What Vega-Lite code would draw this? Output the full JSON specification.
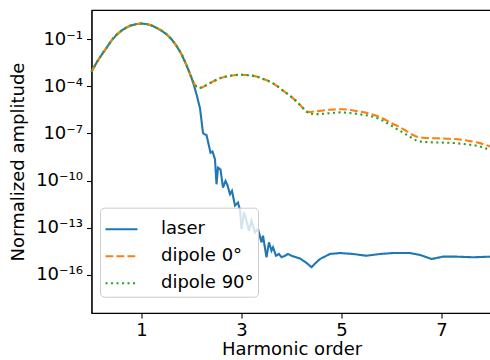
{
  "$schema": "https://vega.github.io/schema/vega-lite/v6.json",
  "width": 400,
  "height": 303,
  "autosize": {"type": "none"},
  "padding": {"left": 91.5, "top": 10, "right": 0, "bottom": 47},
  "background": "white",
  "config": {
    "font": "DejaVu Sans",
    "view": {"stroke": "#000000", "strokeWidth": 1.1},
    "axis": {
      "grid": false,
      "domainColor": "#000000",
      "domainWidth": 1.1,
      "tickColor": "#000000",
      "tickWidth": 1.1,
      "tickSize": 5,
      "labelColor": "#000000",
      "labelFontSize": 18,
      "labelPadding": 4,
      "titleColor": "#000000",
      "titleFontSize": 18,
      "titleFontWeight": "normal"
    },
    "legend": {
      "orient": "none",
      "legendX": 8.5,
      "legendY": 197.7,
      "fillColor": "rgba(255,255,255,0.8)",
      "strokeColor": "#cccccc",
      "cornerRadius": 4,
      "padding": 4,
      "labelFontSize": 18,
      "labelColor": "#000000",
      "labelOffset": 22,
      "rowPadding": 0,
      "symbolType": "stroke",
      "symbolSize": 1024,
      "symbolStrokeWidth": 2.1
    }
  },
  "data": {
    "values": [
      {"harmonic": 0.0, "amplitude": 8.5e-4, "series": "laser"},
      {"harmonic": 0.1, "amplitude": 3.16e-3, "series": "laser"},
      {"harmonic": 0.2, "amplitude": 1.0e-2, "series": "laser"},
      {"harmonic": 0.3, "amplitude": 2.82e-2, "series": "laser"},
      {"harmonic": 0.4, "amplitude": 8.32e-2, "series": "laser"},
      {"harmonic": 0.5, "amplitude": 1.91e-1, "series": "laser"},
      {"harmonic": 0.6, "amplitude": 3.55e-1, "series": "laser"},
      {"harmonic": 0.7, "amplitude": 5.62e-1, "series": "laser"},
      {"harmonic": 0.8, "amplitude": 7.76e-1, "series": "laser"},
      {"harmonic": 0.9, "amplitude": 9.33e-1, "series": "laser"},
      {"harmonic": 1.0, "amplitude": 1.0, "series": "laser"},
      {"harmonic": 1.1, "amplitude": 9.33e-1, "series": "laser"},
      {"harmonic": 1.2, "amplitude": 7.59e-1, "series": "laser"},
      {"harmonic": 1.3, "amplitude": 5.37e-1, "series": "laser"},
      {"harmonic": 1.4, "amplitude": 3.55e-1, "series": "laser"},
      {"harmonic": 1.5, "amplitude": 2.09e-1, "series": "laser"},
      {"harmonic": 1.6, "amplitude": 1.0e-1, "series": "laser"},
      {"harmonic": 1.7, "amplitude": 3.8e-2, "series": "laser"},
      {"harmonic": 1.8, "amplitude": 1.12e-2, "series": "laser"},
      {"harmonic": 1.9, "amplitude": 2.24e-3, "series": "laser"},
      {"harmonic": 2.0, "amplitude": 3.55e-4, "series": "laser"},
      {"harmonic": 2.05, "amplitude": 1.12e-4, "series": "laser"},
      {"harmonic": 2.1, "amplitude": 3.16e-5, "series": "laser"},
      {"harmonic": 2.17, "amplitude": 3.98e-6, "series": "laser"},
      {"harmonic": 2.23, "amplitude": 1.07e-7, "series": "laser"},
      {"harmonic": 2.26, "amplitude": 8.91e-8, "series": "laser"},
      {"harmonic": 2.3, "amplitude": 7.94e-8, "series": "laser"},
      {"harmonic": 2.35, "amplitude": 1.58e-8, "series": "laser"},
      {"harmonic": 2.38, "amplitude": 5.89e-9, "series": "laser"},
      {"harmonic": 2.42, "amplitude": 7.08e-9, "series": "laser"},
      {"harmonic": 2.47, "amplitude": 2.24e-9, "series": "laser"},
      {"harmonic": 2.5, "amplitude": 5.75e-11, "series": "laser"},
      {"harmonic": 2.53, "amplitude": 6.61e-10, "series": "laser"},
      {"harmonic": 2.58, "amplitude": 5.01e-10, "series": "laser"},
      {"harmonic": 2.63, "amplitude": 3.55e-11, "series": "laser"},
      {"harmonic": 2.68, "amplitude": 9.33e-11, "series": "laser"},
      {"harmonic": 2.72, "amplitude": 5.01e-11, "series": "laser"},
      {"harmonic": 2.77, "amplitude": 1.35e-11, "series": "laser"},
      {"harmonic": 2.81, "amplitude": 2.19e-11, "series": "laser"},
      {"harmonic": 2.87, "amplitude": 2.51e-12, "series": "laser"},
      {"harmonic": 2.93, "amplitude": 3.98e-12, "series": "laser"},
      {"harmonic": 2.97, "amplitude": 1.26e-12, "series": "laser"},
      {"harmonic": 3.0, "amplitude": 8.13e-14, "series": "laser"},
      {"harmonic": 3.05, "amplitude": 9.33e-13, "series": "laser"},
      {"harmonic": 3.1, "amplitude": 2.69e-13, "series": "laser"},
      {"harmonic": 3.15, "amplitude": 6.31e-14, "series": "laser"},
      {"harmonic": 3.2, "amplitude": 2.69e-13, "series": "laser"},
      {"harmonic": 3.27, "amplitude": 5.01e-14, "series": "laser"},
      {"harmonic": 3.33, "amplitude": 8.13e-14, "series": "laser"},
      {"harmonic": 3.4, "amplitude": 1.15e-14, "series": "laser"},
      {"harmonic": 3.43, "amplitude": 3.02e-14, "series": "laser"},
      {"harmonic": 3.5, "amplitude": 1.29e-15, "series": "laser"},
      {"harmonic": 3.55, "amplitude": 1.15e-14, "series": "laser"},
      {"harmonic": 3.6, "amplitude": 3.39e-15, "series": "laser"},
      {"harmonic": 3.63, "amplitude": 5.62e-15, "series": "laser"},
      {"harmonic": 3.69, "amplitude": 1.62e-15, "series": "laser"},
      {"harmonic": 3.75, "amplitude": 2.09e-15, "series": "laser"},
      {"harmonic": 3.8, "amplitude": 1.29e-15, "series": "laser"},
      {"harmonic": 3.87, "amplitude": 1.62e-15, "series": "laser"},
      {"harmonic": 3.93, "amplitude": 2.09e-15, "series": "laser"},
      {"harmonic": 4.0, "amplitude": 1.62e-15, "series": "laser"},
      {"harmonic": 4.17, "amplitude": 1.07e-15, "series": "laser"},
      {"harmonic": 4.3, "amplitude": 5.62e-16, "series": "laser"},
      {"harmonic": 4.4, "amplitude": 3.02e-16, "series": "laser"},
      {"harmonic": 4.5, "amplitude": 6.31e-16, "series": "laser"},
      {"harmonic": 4.57, "amplitude": 1.0e-15, "series": "laser"},
      {"harmonic": 4.77, "amplitude": 2.09e-15, "series": "laser"},
      {"harmonic": 4.97, "amplitude": 2.4e-15, "series": "laser"},
      {"harmonic": 5.23, "amplitude": 2.09e-15, "series": "laser"},
      {"harmonic": 5.5, "amplitude": 1.62e-15, "series": "laser"},
      {"harmonic": 5.77, "amplitude": 2.09e-15, "series": "laser"},
      {"harmonic": 6.03, "amplitude": 2.4e-15, "series": "laser"},
      {"harmonic": 6.37, "amplitude": 2.4e-15, "series": "laser"},
      {"harmonic": 6.57, "amplitude": 1.82e-15, "series": "laser"},
      {"harmonic": 6.8, "amplitude": 1.0e-15, "series": "laser"},
      {"harmonic": 7.03, "amplitude": 1.41e-15, "series": "laser"},
      {"harmonic": 7.3, "amplitude": 1.41e-15, "series": "laser"},
      {"harmonic": 7.63, "amplitude": 1.29e-15, "series": "laser"},
      {"harmonic": 7.97, "amplitude": 1.41e-15, "series": "laser"},
      {"harmonic": 8.0, "amplitude": 1.41e-15, "series": "laser"},

      {"harmonic": 0.0, "amplitude": 8.5e-4, "series": "dipole 0°"},
      {"harmonic": 0.1, "amplitude": 3.16e-3, "series": "dipole 0°"},
      {"harmonic": 0.2, "amplitude": 1.0e-2, "series": "dipole 0°"},
      {"harmonic": 0.3, "amplitude": 2.82e-2, "series": "dipole 0°"},
      {"harmonic": 0.4, "amplitude": 8.32e-2, "series": "dipole 0°"},
      {"harmonic": 0.5, "amplitude": 1.91e-1, "series": "dipole 0°"},
      {"harmonic": 0.6, "amplitude": 3.55e-1, "series": "dipole 0°"},
      {"harmonic": 0.7, "amplitude": 5.62e-1, "series": "dipole 0°"},
      {"harmonic": 0.8, "amplitude": 7.76e-1, "series": "dipole 0°"},
      {"harmonic": 0.9, "amplitude": 9.33e-1, "series": "dipole 0°"},
      {"harmonic": 1.0, "amplitude": 1.0, "series": "dipole 0°"},
      {"harmonic": 1.1, "amplitude": 9.33e-1, "series": "dipole 0°"},
      {"harmonic": 1.2, "amplitude": 7.59e-1, "series": "dipole 0°"},
      {"harmonic": 1.3, "amplitude": 5.37e-1, "series": "dipole 0°"},
      {"harmonic": 1.4, "amplitude": 3.55e-1, "series": "dipole 0°"},
      {"harmonic": 1.5, "amplitude": 2.09e-1, "series": "dipole 0°"},
      {"harmonic": 1.6, "amplitude": 1.0e-1, "series": "dipole 0°"},
      {"harmonic": 1.7, "amplitude": 3.8e-2, "series": "dipole 0°"},
      {"harmonic": 1.8, "amplitude": 1.12e-2, "series": "dipole 0°"},
      {"harmonic": 1.9, "amplitude": 2.24e-3, "series": "dipole 0°"},
      {"harmonic": 2.0, "amplitude": 3.55e-4, "series": "dipole 0°"},
      {"harmonic": 2.05, "amplitude": 1.58e-4, "series": "dipole 0°"},
      {"harmonic": 2.1, "amplitude": 9.55e-5, "series": "dipole 0°"},
      {"harmonic": 2.15, "amplitude": 7.76e-5, "series": "dipole 0°"},
      {"harmonic": 2.2, "amplitude": 8.32e-5, "series": "dipole 0°"},
      {"harmonic": 2.3, "amplitude": 1.2e-4, "series": "dipole 0°"},
      {"harmonic": 2.43, "amplitude": 2.04e-4, "series": "dipole 0°"},
      {"harmonic": 2.6, "amplitude": 3.55e-4, "series": "dipole 0°"},
      {"harmonic": 2.7, "amplitude": 4.27e-4, "series": "dipole 0°"},
      {"harmonic": 2.85, "amplitude": 5.13e-4, "series": "dipole 0°"},
      {"harmonic": 3.0, "amplitude": 5.5e-4, "series": "dipole 0°"},
      {"harmonic": 3.15, "amplitude": 5.13e-4, "series": "dipole 0°"},
      {"harmonic": 3.3, "amplitude": 4.27e-4, "series": "dipole 0°"},
      {"harmonic": 3.45, "amplitude": 2.82e-4, "series": "dipole 0°"},
      {"harmonic": 3.6, "amplitude": 1.78e-4, "series": "dipole 0°"},
      {"harmonic": 3.7, "amplitude": 1.12e-4, "series": "dipole 0°"},
      {"harmonic": 3.8, "amplitude": 6.31e-5, "series": "dipole 0°"},
      {"harmonic": 3.97, "amplitude": 2.51e-5, "series": "dipole 0°"},
      {"harmonic": 4.1, "amplitude": 1.1e-5, "series": "dipole 0°"},
      {"harmonic": 4.2, "amplitude": 5.25e-6, "series": "dipole 0°"},
      {"harmonic": 4.3, "amplitude": 2.63e-6, "series": "dipole 0°"},
      {"harmonic": 4.35, "amplitude": 2.29e-6, "series": "dipole 0°"},
      {"harmonic": 4.45, "amplitude": 2.51e-6, "series": "dipole 0°"},
      {"harmonic": 4.57, "amplitude": 2.75e-6, "series": "dipole 0°"},
      {"harmonic": 4.7, "amplitude": 3.16e-6, "series": "dipole 0°"},
      {"harmonic": 4.85, "amplitude": 3.39e-6, "series": "dipole 0°"},
      {"harmonic": 5.0, "amplitude": 3.47e-6, "series": "dipole 0°"},
      {"harmonic": 5.17, "amplitude": 3.16e-6, "series": "dipole 0°"},
      {"harmonic": 5.3, "amplitude": 2.69e-6, "series": "dipole 0°"},
      {"harmonic": 5.5, "amplitude": 2.04e-6, "series": "dipole 0°"},
      {"harmonic": 5.7, "amplitude": 1.32e-6, "series": "dipole 0°"},
      {"harmonic": 5.83, "amplitude": 8.91e-7, "series": "dipole 0°"},
      {"harmonic": 6.0, "amplitude": 4.47e-7, "series": "dipole 0°"},
      {"harmonic": 6.17, "amplitude": 2.51e-7, "series": "dipole 0°"},
      {"harmonic": 6.3, "amplitude": 1.41e-7, "series": "dipole 0°"},
      {"harmonic": 6.43, "amplitude": 7.94e-8, "series": "dipole 0°"},
      {"harmonic": 6.55, "amplitude": 5.75e-8, "series": "dipole 0°"},
      {"harmonic": 6.7, "amplitude": 5.13e-8, "series": "dipole 0°"},
      {"harmonic": 6.9, "amplitude": 4.9e-8, "series": "dipole 0°"},
      {"harmonic": 7.17, "amplitude": 4.57e-8, "series": "dipole 0°"},
      {"harmonic": 7.4, "amplitude": 3.98e-8, "series": "dipole 0°"},
      {"harmonic": 7.57, "amplitude": 3.24e-8, "series": "dipole 0°"},
      {"harmonic": 7.75, "amplitude": 2.51e-8, "series": "dipole 0°"},
      {"harmonic": 7.9, "amplitude": 1.78e-8, "series": "dipole 0°"},
      {"harmonic": 8.0, "amplitude": 1.41e-8, "series": "dipole 0°"},

      {"harmonic": 0.0, "amplitude": 8.5e-4, "series": "dipole 90°"},
      {"harmonic": 0.1, "amplitude": 3.16e-3, "series": "dipole 90°"},
      {"harmonic": 0.2, "amplitude": 1.0e-2, "series": "dipole 90°"},
      {"harmonic": 0.3, "amplitude": 2.82e-2, "series": "dipole 90°"},
      {"harmonic": 0.4, "amplitude": 8.32e-2, "series": "dipole 90°"},
      {"harmonic": 0.5, "amplitude": 1.91e-1, "series": "dipole 90°"},
      {"harmonic": 0.6, "amplitude": 3.55e-1, "series": "dipole 90°"},
      {"harmonic": 0.7, "amplitude": 5.62e-1, "series": "dipole 90°"},
      {"harmonic": 0.8, "amplitude": 7.76e-1, "series": "dipole 90°"},
      {"harmonic": 0.9, "amplitude": 9.33e-1, "series": "dipole 90°"},
      {"harmonic": 1.0, "amplitude": 1.0, "series": "dipole 90°"},
      {"harmonic": 1.1, "amplitude": 9.33e-1, "series": "dipole 90°"},
      {"harmonic": 1.2, "amplitude": 7.59e-1, "series": "dipole 90°"},
      {"harmonic": 1.3, "amplitude": 5.37e-1, "series": "dipole 90°"},
      {"harmonic": 1.4, "amplitude": 3.55e-1, "series": "dipole 90°"},
      {"harmonic": 1.5, "amplitude": 2.09e-1, "series": "dipole 90°"},
      {"harmonic": 1.6, "amplitude": 1.0e-1, "series": "dipole 90°"},
      {"harmonic": 1.7, "amplitude": 3.8e-2, "series": "dipole 90°"},
      {"harmonic": 1.8, "amplitude": 1.12e-2, "series": "dipole 90°"},
      {"harmonic": 1.9, "amplitude": 2.24e-3, "series": "dipole 90°"},
      {"harmonic": 2.0, "amplitude": 3.55e-4, "series": "dipole 90°"},
      {"harmonic": 2.05, "amplitude": 1.58e-4, "series": "dipole 90°"},
      {"harmonic": 2.1, "amplitude": 9.55e-5, "series": "dipole 90°"},
      {"harmonic": 2.15, "amplitude": 7.76e-5, "series": "dipole 90°"},
      {"harmonic": 2.2, "amplitude": 8.32e-5, "series": "dipole 90°"},
      {"harmonic": 2.3, "amplitude": 1.2e-4, "series": "dipole 90°"},
      {"harmonic": 2.43, "amplitude": 2.04e-4, "series": "dipole 90°"},
      {"harmonic": 2.6, "amplitude": 3.55e-4, "series": "dipole 90°"},
      {"harmonic": 2.7, "amplitude": 4.27e-4, "series": "dipole 90°"},
      {"harmonic": 2.85, "amplitude": 5.13e-4, "series": "dipole 90°"},
      {"harmonic": 3.0, "amplitude": 5.5e-4, "series": "dipole 90°"},
      {"harmonic": 3.15, "amplitude": 5.13e-4, "series": "dipole 90°"},
      {"harmonic": 3.3, "amplitude": 4.27e-4, "series": "dipole 90°"},
      {"harmonic": 3.45, "amplitude": 2.82e-4, "series": "dipole 90°"},
      {"harmonic": 3.6, "amplitude": 1.78e-4, "series": "dipole 90°"},
      {"harmonic": 3.7, "amplitude": 1.12e-4, "series": "dipole 90°"},
      {"harmonic": 3.8, "amplitude": 6.31e-5, "series": "dipole 90°"},
      {"harmonic": 3.97, "amplitude": 2.51e-5, "series": "dipole 90°"},
      {"harmonic": 4.1, "amplitude": 1.1e-5, "series": "dipole 90°"},
      {"harmonic": 4.2, "amplitude": 5.25e-6, "series": "dipole 90°"},
      {"harmonic": 4.3, "amplitude": 2.4e-6, "series": "dipole 90°"},
      {"harmonic": 4.37, "amplitude": 1.82e-6, "series": "dipole 90°"},
      {"harmonic": 4.5, "amplitude": 1.7e-6, "series": "dipole 90°"},
      {"harmonic": 4.63, "amplitude": 1.78e-6, "series": "dipole 90°"},
      {"harmonic": 4.8, "amplitude": 2.0e-6, "series": "dipole 90°"},
      {"harmonic": 4.97, "amplitude": 2.19e-6, "series": "dipole 90°"},
      {"harmonic": 5.1, "amplitude": 2.09e-6, "series": "dipole 90°"},
      {"harmonic": 5.3, "amplitude": 1.78e-6, "series": "dipole 90°"},
      {"harmonic": 5.45, "amplitude": 1.51e-6, "series": "dipole 90°"},
      {"harmonic": 5.63, "amplitude": 1.17e-6, "series": "dipole 90°"},
      {"harmonic": 5.8, "amplitude": 7.24e-7, "series": "dipole 90°"},
      {"harmonic": 5.97, "amplitude": 3.55e-7, "series": "dipole 90°"},
      {"harmonic": 6.15, "amplitude": 1.58e-7, "series": "dipole 90°"},
      {"harmonic": 6.3, "amplitude": 8.51e-8, "series": "dipole 90°"},
      {"harmonic": 6.5, "amplitude": 3.55e-8, "series": "dipole 90°"},
      {"harmonic": 6.65, "amplitude": 2.88e-8, "series": "dipole 90°"},
      {"harmonic": 6.77, "amplitude": 2.75e-8, "series": "dipole 90°"},
      {"harmonic": 7.0, "amplitude": 2.63e-8, "series": "dipole 90°"},
      {"harmonic": 7.3, "amplitude": 2.4e-8, "series": "dipole 90°"},
      {"harmonic": 7.5, "amplitude": 2.0e-8, "series": "dipole 90°"},
      {"harmonic": 7.7, "amplitude": 1.66e-8, "series": "dipole 90°"},
      {"harmonic": 7.85, "amplitude": 1.2e-8, "series": "dipole 90°"},
      {"harmonic": 8.0, "amplitude": 7.59e-9, "series": "dipole 90°"}
    ]
  },
  "encoding": {
    "x": {
      "field": "harmonic",
      "type": "quantitative",
      "scale": {"domain": [0, 8], "nice": false, "zero": false},
      "axis": {"values": [1, 3, 5, 7], "title": "Harmonic order", "titlePadding": 1, "labelPadding": 3}
    },
    "y": {
      "field": "amplitude",
      "type": "quantitative",
      "scale": {"type": "log", "domain": [3.63e-19, 7.33], "nice": false},
      "axis": {
        "values": [1e-16, 1e-13, 1e-10, 1e-7, 1e-4, 1e-1],
        "labelExpr": "datum.value < 1e-15 ? '10⁻¹⁶' : datum.value < 1e-12 ? '10⁻¹³' : datum.value < 1e-9 ? '10⁻¹⁰' : datum.value < 1e-6 ? '10⁻⁷' : datum.value < 1e-3 ? '10⁻⁴' : '10⁻¹'",
        "title": "Normalized amplitude",
        "titlePadding": 8
      }
    },
    "color": {
      "field": "series",
      "type": "nominal",
      "scale": {"domain": ["laser", "dipole 0°", "dipole 90°"], "range": ["#1f77b4", "#ff7f0e", "#2ca02c"]},
      "legend": {"title": null}
    },
    "strokeDash": {
      "field": "series",
      "type": "nominal",
      "scale": {"domain": ["laser", "dipole 0°", "dipole 90°"], "range": [[1, 0], [7.7, 3.3], [2.1, 3.4]]},
      "legend": {"title": null}
    }
  },
  "layer": [
    {
      "transform": [{"filter": "datum.series === 'laser'"}],
      "mark": {"type": "line", "strokeWidth": 2.1, "interpolate": "linear"}
    },
    {
      "transform": [{"filter": "datum.series === 'dipole 0°'"}],
      "mark": {"type": "line", "strokeWidth": 2.1, "interpolate": "monotone"}
    },
    {
      "transform": [{"filter": "datum.series === 'dipole 90°'"}],
      "mark": {"type": "line", "strokeWidth": 2.1, "interpolate": "monotone"}
    }
  ]
}
